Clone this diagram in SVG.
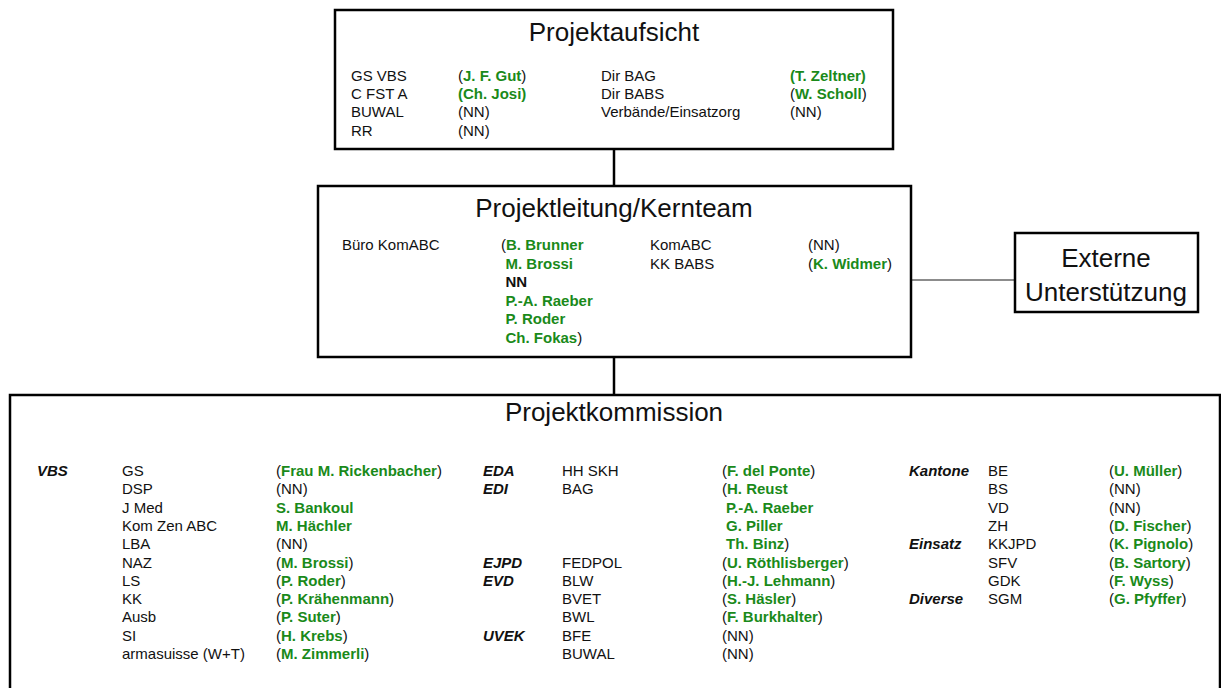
<svg xmlns="http://www.w3.org/2000/svg" width="1221" height="688" viewBox="0 0 1221 688">
<style>
text{font-family:"Liberation Sans",Arial,sans-serif;font-size:15px;fill:#111}
.title{font-size:26px;text-anchor:middle}
.g{font-weight:bold;fill:#1a8a1a}
.k{font-weight:bold}
.c{font-weight:bold;font-style:italic}
.box{fill:#fff;stroke:#000;stroke-width:2.5}
.line{stroke:#000;stroke-width:2.5;fill:none}
.thin{stroke:#666;stroke-width:1.5;fill:none}
</style>
<rect width="1221" height="688" fill="#fff"/>
<g id="connectors">
<line class="line" x1="614" y1="149" x2="614" y2="186"/>
<line class="line" x1="614" y1="357" x2="614" y2="395"/>
<line class="thin" x1="911" y1="280" x2="1015" y2="280"/>
</g>
<g id="projektaufsicht">
<rect class="box" x="335" y="10" width="558" height="139"/>
<text class="title" x="614" y="41">Projektaufsicht</text>
<text x="351" y="81">GS VBS</text>
<text x="351" y="99.2">C FST A</text>
<text x="351" y="117.4">BUWAL</text>
<text x="351" y="135.6">RR</text>
<text x="458" y="81">(<tspan class="g">J. F. Gut</tspan>)</text>
<text x="458" y="99.2" class="g">(Ch. Josi)</text>
<text x="458" y="117.4">(NN)</text>
<text x="458" y="135.6">(NN)</text>
<text x="601" y="81">Dir BAG</text>
<text x="601" y="99.2">Dir BABS</text>
<text x="601" y="117.4">Verbände/Einsatzorg</text>
<text x="790" y="81" class="g">(T. Zeltner)</text>
<text x="790" y="99.2">(<tspan class="g">W. Scholl</tspan>)</text>
<text x="790" y="117.4">(NN)</text>
</g>
<g id="projektleitung">
<rect class="box" x="318" y="186" width="593" height="171"/>
<text class="title" x="614" y="217">Projektleitung/Kernteam</text>
<text x="342" y="250">Büro KomABC</text>
<text x="501" y="250">(<tspan class="g">B. Brunner</tspan></text>
<text x="505.5" y="268.5" class="g">M. Brossi</text>
<text x="505.5" y="287" class="k">NN</text>
<text x="505.5" y="305.5" class="g">P.-A. Raeber</text>
<text x="505.5" y="324" class="g">P. Roder</text>
<text x="505.5" y="342.5"><tspan class="g">Ch. Fokas</tspan>)</text>
<text x="650" y="250">KomABC</text>
<text x="650" y="268.5">KK BABS</text>
<text x="808" y="250">(NN)</text>
<text x="808" y="268.5">(<tspan class="g">K. Widmer</tspan>)</text>
</g>
<g id="externe">
<rect class="box" x="1015" y="233" width="183" height="79"/>
<text class="title" x="1106" y="267">Externe</text>
<text class="title" x="1106" y="301">Unterstützung</text>
</g>
<g id="projektkommission">
<rect class="box" x="10" y="395" width="1210" height="320"/>
<text class="title" x="614" y="421">Projektkommission</text>
<text x="37" y="476" class="c">VBS</text>
<text x="122" y="476">GS</text>
<text x="122" y="494.3">DSP</text>
<text x="122" y="512.6">J Med</text>
<text x="122" y="530.9">Kom Zen ABC</text>
<text x="122" y="549.2">LBA</text>
<text x="122" y="567.5">NAZ</text>
<text x="122" y="585.8">LS</text>
<text x="122" y="604.1">KK</text>
<text x="122" y="622.4">Ausb</text>
<text x="122" y="640.7">SI</text>
<text x="122" y="659">armasuisse (W+T)</text>
<text x="276" y="476">(<tspan class="g">Frau M. Rickenbacher</tspan>)</text>
<text x="276" y="494.3">(NN)</text>
<text x="276" y="512.6" class="g">S. Bankoul</text>
<text x="276" y="530.9" class="g">M. Hächler</text>
<text x="276" y="549.2">(NN)</text>
<text x="276" y="567.5">(<tspan class="g">M. Brossi</tspan>)</text>
<text x="276" y="585.8">(<tspan class="g">P. Roder</tspan>)</text>
<text x="276" y="604.1">(<tspan class="g">P. Krähenmann</tspan>)</text>
<text x="276" y="622.4">(<tspan class="g">P. Suter</tspan>)</text>
<text x="276" y="640.7">(<tspan class="g">H. Krebs</tspan>)</text>
<text x="276" y="659">(<tspan class="g">M. Zimmerli</tspan>)</text>
<text x="483" y="476" class="c">EDA</text>
<text x="483" y="494.3" class="c">EDI</text>
<text x="483" y="567.5" class="c">EJPD</text>
<text x="483" y="585.8" class="c">EVD</text>
<text x="483" y="640.7" class="c">UVEK</text>
<text x="562" y="476">HH SKH</text>
<text x="562" y="494.3">BAG</text>
<text x="562" y="567.5">FEDPOL</text>
<text x="562" y="585.8">BLW</text>
<text x="562" y="604.1">BVET</text>
<text x="562" y="622.4">BWL</text>
<text x="562" y="640.7">BFE</text>
<text x="562" y="659">BUWAL</text>
<text x="722" y="476">(<tspan class="g">F. del Ponte</tspan>)</text>
<text x="722" y="494.3">(<tspan class="g">H. Reust</tspan></text>
<text x="726" y="512.6" class="g">P.-A. Raeber</text>
<text x="726" y="530.9" class="g">G. Piller</text>
<text x="726" y="549.2"><tspan class="g">Th. Binz</tspan>)</text>
<text x="722" y="567.5">(<tspan class="g">U. Röthlisberger</tspan>)</text>
<text x="722" y="585.8">(<tspan class="g">H.-J. Lehmann</tspan>)</text>
<text x="722" y="604.1">(<tspan class="g">S. Häsler</tspan>)</text>
<text x="722" y="622.4">(<tspan class="g">F. Burkhalter</tspan>)</text>
<text x="722" y="640.7">(NN)</text>
<text x="722" y="659">(NN)</text>
<text x="909" y="476" class="c">Kantone</text>
<text x="909" y="549.2" class="c">Einsatz</text>
<text x="909" y="604.1" class="c">Diverse</text>
<text x="988" y="476">BE</text>
<text x="988" y="494.3">BS</text>
<text x="988" y="512.6">VD</text>
<text x="988" y="530.9">ZH</text>
<text x="988" y="549.2">KKJPD</text>
<text x="988" y="567.5">SFV</text>
<text x="988" y="585.8">GDK</text>
<text x="988" y="604.1">SGM</text>
<text x="1109" y="476">(<tspan class="g">U. Müller</tspan>)</text>
<text x="1109" y="494.3">(NN)</text>
<text x="1109" y="512.6">(NN)</text>
<text x="1109" y="530.9">(<tspan class="g">D. Fischer</tspan>)</text>
<text x="1109" y="549.2">(<tspan class="g">K. Pignolo</tspan>)</text>
<text x="1109" y="567.5">(<tspan class="g">B. Sartory</tspan>)</text>
<text x="1109" y="585.8">(<tspan class="g">F. Wyss</tspan>)</text>
<text x="1109" y="604.1">(<tspan class="g">G. Pfyffer</tspan>)</text>
</g>
</svg>
